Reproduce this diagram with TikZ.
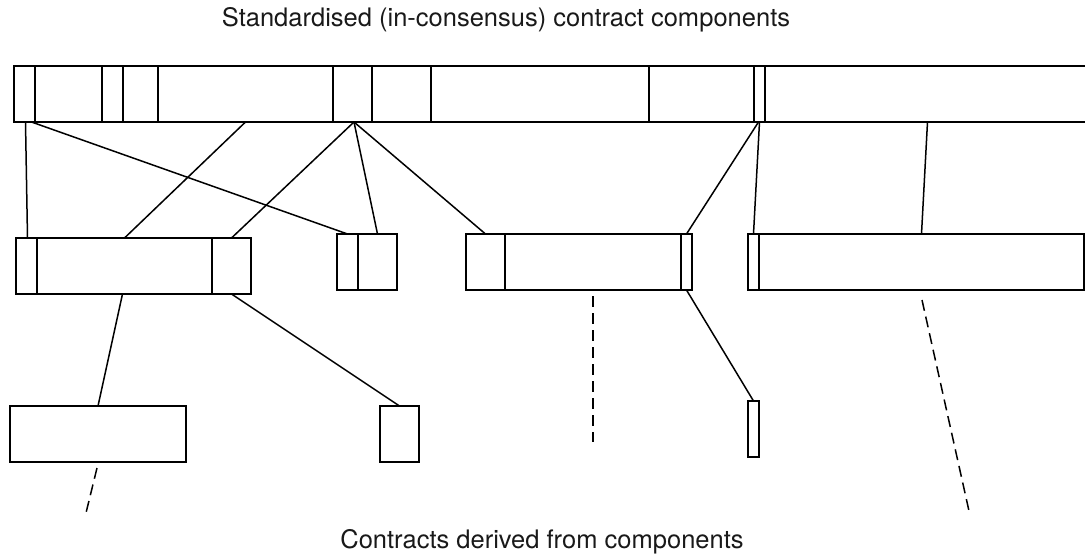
\documentclass[tikz,border=0pt]{standalone}
\usepackage{fontspec}
\setmainfont{TeX Gyre Heros}
\begin{document}
\begin{tikzpicture}[x=1pt,y=-1pt,
  cell/.style={draw=black,line width=1.7pt,rectangle,inner sep=0pt,outer sep=0pt,anchor=north west},
  link/.style={draw=black,line width=1.5pt},
  dlink/.style={draw=black,line width=1.5pt,dash pattern=on 11pt off 6pt},
  lbl/.style={font=\fontsize{25.5}{30}\selectfont,text=black!90,inner sep=0pt,anchor=base}]
\useasboundingbox (0,0) rectangle (1085,554);
\clip (0,0) rectangle (1085,554);
\newcommand\mkcell[5]{\node[cell,minimum width={(#3-#2)*1pt},minimum height={(#5-#4)*1pt}] (#1) at (#2,#4) {};}
% top bar
\mkcell{t1}{14}{35}{66}{122}
\mkcell{t2}{35}{102}{66}{122}
\mkcell{t3}{102}{123}{66}{122}
\mkcell{t4}{123}{158}{66}{122}
\mkcell{t5}{158}{333}{66}{122}
\mkcell{t6}{333}{372}{66}{122}
\mkcell{t7}{372}{431}{66}{122}
\mkcell{t8}{431}{649}{66}{122}
\mkcell{t9}{649}{754}{66}{122}
\mkcell{t10}{754}{765}{66}{122}
\mkcell{t11}{765}{1100}{66}{122}
% middle row
\mkcell{a1}{16}{37}{238}{294}
\mkcell{a2}{37}{212}{238}{294}
\mkcell{a3}{212}{251}{238}{294}
\mkcell{b1}{337}{358}{234}{290}
\mkcell{b2}{358}{397}{234}{290}
\mkcell{c1}{466}{505}{234}{290}
\mkcell{c2}{505}{681}{234}{290}
\mkcell{c3}{681}{692}{234}{290}
\mkcell{d1}{748}{759}{234}{290}
\mkcell{d2}{759}{1084}{234}{290}
% bottom row
\mkcell{e}{10}{186}{406}{462}
\mkcell{f}{380}{419}{406}{462}
\mkcell{g}{748}{759}{401}{457}
% free ends of dashed connectors
\coordinate (e1) at (97,468);
\coordinate (e2) at (85,517);
\coordinate (c2a) at (593,296);
\coordinate (c2b) at (593,442);
\coordinate (d2a) at (922,300);
\coordinate (d2b) at (969,511);
% connectors
\draw[link] ([xshift=1pt]t1.south) -- ([xshift=1pt]a1.north);
\draw[link] ([xshift=7pt]t1.south) -- (b1.north);
\draw[link] (t5.south) -- (a2.north);
\draw[link] ([xshift=1.5pt]t6.south) -- (a3.north);
\draw[link] ([xshift=1.5pt]t6.south) -- (b2.north);
\draw[link] ([xshift=1.5pt]t6.south) -- (c1.north);
\draw[link] ([xshift=-1pt]t10.south) -- (c3.north);
\draw[link] (t10.south) -- (d1.north);
\draw[link] ([xshift=-5pt]t11.south) -- ([xshift=0pt]d2.north);
\draw[link] ([xshift=-2pt]a2.south) -- (e.north);
\draw[link] (a3.south) -- (f.north);
\draw[link] (c3.south) -- (g.north);
\draw[dlink] (e1) -- (e2);
\draw[dlink] (c2a) -- (c2b);
\draw[dlink] (d2a) -- (d2b);
% labels
\node[lbl] (top) at (506,26) {Standardised (in-consensus) contract components};
\node[lbl] (bot) at (542,548) {Contracts derived from components};
\end{tikzpicture}
\end{document}
